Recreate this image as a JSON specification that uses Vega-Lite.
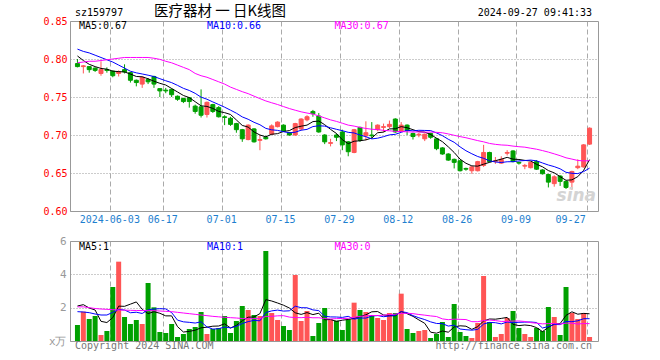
{
  "$schema": "https://vega.github.io/schema/vega-lite/v6.json",
  "autosize": {"type": "none"},
  "padding": {"left": 70, "top": 21, "right": 590, "bottom": 339},
  "background": "white",
  "config": {
    "view": {"stroke": "#999999", "strokeWidth": 1},
    "axis": {"labelFont": "DejaVu Sans Mono", "titleFont": "DejaVu Sans Mono", "labelOverlap": false},
    "text": {"font": "DejaVu Sans Mono"}
  },
  "datasets": {
    "d": [
      {"i":0,"o":0.794,"h":0.800,"l":0.789,"c":0.790,"v":0.96,"m5":0.804,"m10":0.813,"m30":0.795,"vm5":2.10,"vm10":1.76,"vm30":2.05},
      {"i":1,"o":0.790,"h":0.792,"l":0.781,"c":0.791,"v":1.76,"m5":0.798,"m10":0.810,"m30":0.796,"vm5":2.18,"vm10":1.74,"vm30":2.05},
      {"i":2,"o":0.790,"h":0.790,"l":0.782,"c":0.786,"v":1.32,"m5":0.793,"m10":0.808,"m30":0.797,"vm5":1.98,"vm10":1.70,"vm30":2.00},
      {"i":3,"o":0.788,"h":0.789,"l":0.783,"c":0.785,"v":1.50,"m5":0.790,"m10":0.805,"m30":0.797,"vm5":1.86,"vm10":1.62,"vm30":1.95},
      {"i":4,"o":0.781,"h":0.797,"l":0.778,"c":0.786,"v":0.36,"m5":0.7876,"m10":0.802,"m30":0.798,"vm5":1.18,"vm10":1.56,"vm30":1.92},
      {"i":5,"o":0.786,"h":0.789,"l":0.782,"c":0.785,"v":0.60,"m5":0.7866,"m10":0.799,"m30":0.799,"vm5":1.108,"vm10":1.56,"vm30":1.90},
      {"i":6,"o":0.784,"h":0.785,"l":0.776,"c":0.778,"v":3.24,"m5":0.784,"m10":0.796,"m30":0.800,"vm5":1.404,"vm10":1.72,"vm30":1.88},
      {"i":7,"o":0.781,"h":0.785,"l":0.777,"c":0.783,"v":4.76,"m5":0.7834,"m10":0.792,"m30":0.801,"vm5":2.092,"vm10":1.90,"vm30":1.86},
      {"i":8,"o":0.786,"h":0.793,"l":0.781,"c":0.783,"v":1.44,"m5":0.783,"m10":0.788,"m30":0.802,"vm5":2.08,"vm10":1.86,"vm30":1.85},
      {"i":9,"o":0.782,"h":0.783,"l":0.769,"c":0.772,"v":1.02,"m5":0.7802,"m10":0.7839,"m30":0.802,"vm5":2.212,"vm10":1.696,"vm30":1.84},
      {"i":10,"o":0.772,"h":0.773,"l":0.764,"c":0.769,"v":1.26,"m5":0.777,"m10":0.7818,"m30":0.802,"vm5":2.344,"vm10":1.726,"vm30":1.83},
      {"i":11,"o":0.767,"h":0.777,"l":0.762,"c":0.776,"v":1.02,"m5":0.7766,"m10":0.7803,"m30":0.802,"vm5":1.90,"vm10":1.652,"vm30":1.83},
      {"i":12,"o":0.773,"h":0.775,"l":0.767,"c":0.770,"v":3.48,"m5":0.774,"m10":0.7787,"m30":0.802,"vm5":1.644,"vm10":1.868,"vm30":1.82},
      {"i":13,"o":0.777,"h":0.778,"l":0.762,"c":0.767,"v":2.02,"m5":0.7708,"m10":0.7769,"m30":0.801,"vm5":1.76,"vm10":1.92,"vm30":1.82},
      {"i":14,"o":0.761,"h":0.761,"l":0.750,"c":0.758,"v":0.54,"m5":0.768,"m10":0.7741,"m30":0.7995,"vm5":1.664,"vm10":1.938,"vm30":1.80},
      {"i":15,"o":0.759,"h":0.762,"l":0.755,"c":0.758,"v":0.48,"m5":0.7658,"m10":0.7714,"m30":0.797,"vm5":1.508,"vm10":1.926,"vm30":1.78},
      {"i":16,"o":0.760,"h":0.761,"l":0.750,"c":0.753,"v":1.02,"m5":0.7612,"m10":0.7689,"m30":0.795,"vm5":1.508,"vm10":1.704,"vm30":1.76},
      {"i":17,"o":0.751,"h":0.752,"l":0.745,"c":0.747,"v":0.24,"m5":0.7566,"m10":0.7653,"m30":0.792,"vm5":0.86,"vm10":1.252,"vm30":1.72},
      {"i":18,"o":0.748,"h":0.749,"l":0.742,"c":0.744,"v":0.42,"m5":0.752,"m10":0.7614,"m30":0.789,"vm5":0.54,"vm10":1.15,"vm30":1.68},
      {"i":19,"o":0.749,"h":0.750,"l":0.736,"c":0.744,"v":0.72,"m5":0.7492,"m10":0.7586,"m30":0.786,"vm5":0.576,"vm10":1.12,"vm30":1.64},
      {"i":20,"o":0.738,"h":0.740,"l":0.728,"c":0.731,"v":0.84,"m5":0.7438,"m10":0.7548,"m30":0.781,"vm5":0.648,"vm10":1.078,"vm30":1.60},
      {"i":21,"o":0.737,"h":0.760,"l":0.723,"c":0.726,"v":1.74,"m5":0.7384,"m10":0.7498,"m30":0.778,"vm5":0.792,"vm10":1.15,"vm30":1.56},
      {"i":22,"o":0.727,"h":0.744,"l":0.723,"c":0.743,"v":0.42,"m5":0.7376,"m10":0.7471,"m30":0.776,"vm5":0.828,"vm10":0.844,"vm30":1.52},
      {"i":23,"o":0.740,"h":0.741,"l":0.729,"c":0.731,"v":0.72,"m5":0.735,"m10":0.7435,"m30":0.773,"vm5":0.888,"vm10":0.714,"vm30":1.48},
      {"i":24,"o":0.736,"h":0.738,"l":0.723,"c":0.724,"v":0.78,"m5":0.731,"m10":0.7401,"m30":0.770,"vm5":0.90,"vm10":0.738,"vm30":1.45},
      {"i":25,"o":0.724,"h":0.726,"l":0.713,"c":0.723,"v":1.50,"m5":0.7294,"m10":0.7366,"m30":0.767,"vm5":1.032,"vm10":0.84,"vm30":1.42},
      {"i":26,"o":0.722,"h":0.724,"l":0.712,"c":0.714,"v":0.48,"m5":0.727,"m10":0.7327,"m30":0.763,"vm5":0.78,"vm10":0.786,"vm30":1.40},
      {"i":27,"o":0.715,"h":0.716,"l":0.703,"c":0.707,"v":1.20,"m5":0.7198,"m10":0.7287,"m30":0.760,"vm5":0.936,"vm10":0.882,"vm30":1.38},
      {"i":28,"o":0.707,"h":0.708,"l":0.691,"c":0.695,"v":2.10,"m5":0.7126,"m10":0.7238,"m30":0.757,"vm5":1.212,"vm10":1.05,"vm30":1.35},
      {"i":29,"o":0.694,"h":0.714,"l":0.693,"c":0.713,"v":1.86,"m5":0.7104,"m10":0.7207,"m30":0.7544,"vm5":1.428,"vm10":1.164,"vm30":1.327},
      {"i":30,"o":0.708,"h":0.709,"l":0.690,"c":0.691,"v":1.56,"m5":0.704,"m10":0.7167,"m30":0.7511,"vm5":1.44,"vm10":1.236,"vm30":1.347},
      {"i":31,"o":0.693,"h":0.700,"l":0.680,"c":0.694,"v":1.50,"m5":0.700,"m10":0.7135,"m30":0.7479,"vm5":1.644,"vm10":1.212,"vm30":1.338},
      {"i":32,"o":0.697,"h":0.699,"l":0.694,"c":0.695,"v":5.40,"m5":0.6976,"m10":0.7087,"m30":0.7448,"vm5":2.484,"vm10":1.71,"vm30":1.474},
      {"i":33,"o":0.701,"h":0.714,"l":0.700,"c":0.712,"v":1.68,"m5":0.701,"m10":0.7068,"m30":0.7424,"vm5":2.40,"vm10":1.806,"vm30":1.48},
      {"i":34,"o":0.711,"h":0.718,"l":0.710,"c":0.717,"v":1.26,"m5":0.7018,"m10":0.7061,"m30":0.7401,"vm5":2.28,"vm10":1.854,"vm30":1.51},
      {"i":35,"o":0.713,"h":0.714,"l":0.704,"c":0.705,"v":0.90,"m5":0.7046,"m10":0.7043,"m30":0.7374,"vm5":2.148,"vm10":1.794,"vm30":1.52},
      {"i":36,"o":0.703,"h":0.704,"l":0.699,"c":0.700,"v":0.66,"m5":0.7058,"m10":0.7029,"m30":0.7348,"vm5":1.98,"vm10":1.812,"vm30":1.434},
      {"i":37,"o":0.700,"h":0.716,"l":0.699,"c":0.715,"v":3.96,"m5":0.7098,"m10":0.7037,"m30":0.7326,"vm5":1.692,"vm10":2.088,"vm30":1.407},
      {"i":38,"o":0.708,"h":0.722,"l":0.706,"c":0.721,"v":1.20,"m5":0.7116,"m10":0.7063,"m30":0.7305,"vm5":1.596,"vm10":1.998,"vm30":1.399},
      {"i":39,"o":0.720,"h":0.726,"l":0.718,"c":0.724,"v":1.80,"m5":0.713,"m10":0.7074,"m30":0.7289,"vm5":1.704,"vm10":1.992,"vm30":1.425},
      {"i":40,"o":0.731,"h":0.733,"l":0.724,"c":0.728,"v":0.30,"m5":0.7176,"m10":0.7111,"m30":0.7275,"vm5":1.584,"vm10":1.866,"vm30":1.393},
      {"i":41,"o":0.725,"h":0.729,"l":0.703,"c":0.704,"v":1.08,"m5":0.7184,"m10":0.7121,"m30":0.7251,"vm5":1.668,"vm10":1.824,"vm30":1.395},
      {"i":42,"o":0.700,"h":0.701,"l":0.688,"c":0.691,"v":1.98,"m5":0.7136,"m10":0.7117,"m30":0.7225,"vm5":1.272,"vm10":1.482,"vm30":1.345},
      {"i":43,"o":0.689,"h":0.695,"l":0.685,"c":0.690,"v":1.30,"m5":0.7074,"m10":0.7095,"m30":0.7199,"vm5":1.292,"vm10":1.444,"vm30":1.321},
      {"i":44,"o":0.700,"h":0.702,"l":0.692,"c":0.697,"v":1.22,"m5":0.702,"m10":0.7075,"m30":0.7179,"vm5":1.176,"vm10":1.44,"vm30":1.344},
      {"i":45,"o":0.704,"h":0.707,"l":0.680,"c":0.687,"v":0.66,"m5":0.6938,"m10":0.7057,"m30":0.7155,"vm5":1.248,"vm10":1.416,"vm30":1.35},
      {"i":46,"o":0.691,"h":0.692,"l":0.672,"c":0.678,"v":1.30,"m5":0.6886,"m10":0.7035,"m30":0.713,"vm5":1.292,"vm10":1.48,"vm30":1.359},
      {"i":47,"o":0.677,"h":0.708,"l":0.676,"c":0.707,"v":2.30,"m5":0.6918,"m10":0.7027,"m30":0.7117,"vm5":1.356,"vm10":1.314,"vm30":1.428},
      {"i":48,"o":0.710,"h":0.711,"l":0.691,"c":0.693,"v":1.86,"m5":0.6924,"m10":0.6999,"m30":0.710,"vm5":1.468,"vm10":1.38,"vm30":1.476},
      {"i":49,"o":0.699,"h":0.718,"l":0.693,"c":0.703,"v":1.74,"m5":0.6936,"m10":0.6978,"m30":0.7086,"vm5":1.572,"vm10":1.374,"vm30":1.51},
      {"i":50,"o":0.700,"h":0.717,"l":0.695,"c":0.699,"v":1.56,"m5":0.696,"m10":0.6949,"m30":0.7076,"vm5":1.752,"vm10":1.50,"vm30":1.534},
      {"i":51,"o":0.707,"h":0.714,"l":0.705,"c":0.713,"v":1.38,"m5":0.703,"m10":0.6958,"m30":0.7071,"vm5":1.768,"vm10":1.53,"vm30":1.522},
      {"i":52,"o":0.710,"h":0.715,"l":0.704,"c":0.711,"v":1.26,"m5":0.7038,"m10":0.6978,"m30":0.7061,"vm5":1.56,"vm10":1.458,"vm30":1.55},
      {"i":53,"o":0.711,"h":0.719,"l":0.709,"c":0.714,"v":1.68,"m5":0.708,"m10":0.7002,"m30":0.7055,"vm5":1.524,"vm10":1.496,"vm30":1.582},
      {"i":54,"o":0.721,"h":0.722,"l":0.703,"c":0.704,"v":1.68,"m5":0.7082,"m10":0.7009,"m30":0.7048,"vm5":1.512,"vm10":1.542,"vm30":1.612},
      {"i":55,"o":0.705,"h":0.717,"l":0.705,"c":0.713,"v":2.84,"m5":0.711,"m10":0.7035,"m30":0.7045,"vm5":1.768,"vm10":1.76,"vm30":1.657},
      {"i":56,"o":0.713,"h":0.714,"l":0.700,"c":0.706,"v":0.72,"m5":0.7096,"m10":0.7063,"m30":0.7042,"vm5":1.636,"vm10":1.702,"vm30":1.665},
      {"i":57,"o":0.702,"h":0.703,"l":0.694,"c":0.698,"v":0.48,"m5":0.707,"m10":0.7054,"m30":0.7039,"vm5":1.48,"vm10":1.52,"vm30":1.641},
      {"i":58,"o":0.700,"h":0.703,"l":0.697,"c":0.701,"v":0.60,"m5":0.7044,"m10":0.7062,"m30":0.7041,"vm5":1.264,"vm10":1.394,"vm30":1.591},
      {"i":59,"o":0.695,"h":0.702,"l":0.692,"c":0.701,"v":0.66,"m5":0.7038,"m10":0.706,"m30":0.7037,"vm5":1.06,"vm10":1.286,"vm30":1.551},
      {"i":60,"o":0.702,"h":0.703,"l":0.695,"c":0.697,"v":0.18,"m5":0.7006,"m10":0.7058,"m30":0.7039,"vm5":0.528,"vm10":1.148,"vm30":1.505},
      {"i":61,"o":0.695,"h":0.696,"l":0.680,"c":0.682,"v":0.42,"m5":0.6958,"m10":0.7027,"m30":0.7035,"vm5":0.468,"vm10":1.052,"vm30":1.469},
      {"i":62,"o":0.683,"h":0.684,"l":0.674,"c":0.675,"v":1.14,"m5":0.6912,"m10":0.6991,"m30":0.7029,"vm5":0.60,"vm10":1.04,"vm30":1.327},
      {"i":63,"o":0.675,"h":0.676,"l":0.666,"c":0.667,"v":0.24,"m5":0.6844,"m10":0.6944,"m30":0.7014,"vm5":0.528,"vm10":0.896,"vm30":1.279},
      {"i":64,"o":0.668,"h":0.669,"l":0.656,"c":0.664,"v":2.22,"m5":0.677,"m10":0.6904,"m30":0.6996,"vm5":0.84,"vm10":0.95,"vm30":1.311},
      {"i":65,"o":0.666,"h":0.667,"l":0.652,"c":0.653,"v":0.54,"m5":0.6682,"m10":0.6844,"m30":0.6979,"vm5":0.912,"vm10":0.72,"vm30":1.299},
      {"i":66,"o":0.656,"h":0.657,"l":0.653,"c":0.655,"v":0.30,"m5":0.6628,"m10":0.6793,"m30":0.6964,"vm5":0.888,"vm10":0.678,"vm30":1.287},
      {"i":67,"o":0.653,"h":0.659,"l":0.649,"c":0.658,"v":0.18,"m5":0.6594,"m10":0.6753,"m30":0.6945,"vm5":0.696,"vm10":0.648,"vm30":1.161},
      {"i":68,"o":0.653,"h":0.666,"l":0.652,"c":0.665,"v":1.08,"m5":0.659,"m10":0.6717,"m30":0.6926,"vm5":0.864,"vm10":0.696,"vm30":1.157},
      {"i":69,"o":0.660,"h":0.687,"l":0.658,"c":0.677,"v":3.90,"m5":0.6616,"m10":0.6693,"m30":0.691,"vm5":1.20,"vm10":1.02,"vm30":1.227},
      {"i":70,"o":0.677,"h":0.678,"l":0.664,"c":0.665,"v":1.14,"m5":0.664,"m10":0.6661,"m30":0.6889,"vm5":1.32,"vm10":1.116,"vm30":1.255},
      {"i":71,"o":0.665,"h":0.671,"l":0.662,"c":0.666,"v":0.24,"m5":0.6662,"m10":0.6645,"m30":0.6877,"vm5":1.308,"vm10":1.098,"vm30":1.227},
      {"i":72,"o":0.663,"h":0.672,"l":0.662,"c":0.668,"v":0.42,"m5":0.6682,"m10":0.6638,"m30":0.6869,"vm5":1.356,"vm10":1.026,"vm30":1.175},
      {"i":73,"o":0.676,"h":0.680,"l":0.673,"c":0.677,"v":1.38,"m5":0.6706,"m10":0.6648,"m30":0.6865,"vm5":1.416,"vm10":1.14,"vm30":1.177},
      {"i":74,"o":0.679,"h":0.680,"l":0.664,"c":0.665,"v":1.80,"m5":0.6682,"m10":0.6649,"m30":0.6854,"vm5":0.996,"vm10":1.098,"vm30":1.197},
      {"i":75,"o":0.664,"h":0.665,"l":0.661,"c":0.663,"v":0.78,"m5":0.6678,"m10":0.6659,"m30":0.6846,"vm5":0.924,"vm10":1.122,"vm30":1.201},
      {"i":76,"o":0.659,"h":0.662,"l":0.655,"c":0.660,"v":0.42,"m5":0.6666,"m10":0.6664,"m30":0.684,"vm5":0.96,"vm10":1.134,"vm30":1.171},
      {"i":77,"o":0.657,"h":0.665,"l":0.656,"c":0.664,"v":0.24,"m5":0.6658,"m10":0.667,"m30":0.6826,"vm5":0.924,"vm10":1.14,"vm30":1.103},
      {"i":78,"o":0.665,"h":0.667,"l":0.654,"c":0.655,"v":0.78,"m5":0.6614,"m10":0.666,"m30":0.6813,"vm5":0.804,"vm10":1.11,"vm30":1.067},
      {"i":79,"o":0.654,"h":0.655,"l":0.648,"c":0.649,"v":0.60,"m5":0.6582,"m10":0.6632,"m30":0.6795,"vm5":0.564,"vm10":0.78,"vm30":1.029},
      {"i":80,"o":0.648,"h":0.649,"l":0.631,"c":0.638,"v":2.04,"m5":0.6532,"m10":0.6605,"m30":0.6775,"vm5":0.816,"vm10":0.87,"vm30":1.045},
      {"i":81,"o":0.636,"h":0.647,"l":0.632,"c":0.645,"v":1.44,"m5":0.6502,"m10":0.6584,"m30":0.6752,"vm5":1.02,"vm10":0.99,"vm30":1.047},
      {"i":82,"o":0.646,"h":0.647,"l":0.633,"c":0.639,"v":0.36,"m5":0.6452,"m10":0.6555,"m30":0.6728,"vm5":1.044,"vm10":0.984,"vm30":1.017},
      {"i":83,"o":0.639,"h":0.640,"l":0.629,"c":0.631,"v":3.24,"m5":0.6404,"m10":0.6509,"m30":0.670,"vm5":1.536,"vm10":1.17,"vm30":1.069},
      {"i":84,"o":0.638,"h":0.653,"l":0.628,"c":0.652,"v":1.68,"m5":0.641,"m10":0.6496,"m30":0.6683,"vm5":1.752,"vm10":1.158,"vm30":1.069},
      {"i":85,"o":0.657,"h":0.668,"l":0.655,"c":0.659,"v":1.32,"m5":0.6452,"m10":0.6492,"m30":0.6665,"vm5":1.608,"vm10":1.212,"vm30":1.018},
      {"i":86,"o":0.658,"h":0.688,"l":0.657,"c":0.687,"v":1.68,"m5":0.6536,"m10":0.6519,"m30":0.6659,"vm5":1.656,"vm10":1.338,"vm30":1.05},
      {"i":87,"o":0.688,"h":0.710,"l":0.687,"c":0.709,"v":0.24,"m5":0.6676,"m10":0.6564,"m30":0.6662,"vm5":1.632,"vm10":1.338,"vm30":1.042}
    ]
  },
  "vconcat": [
    {
      "width": 528,
      "height": 190,
      "data": {"name": "d"},
      "encoding": {
        "x": {
          "field": "i", "type": "quantitative",
          "scale": {"domain": [-0.4167, 87.5833], "nice": false, "zero": false},
          "axis": {"title": null, "values": [5.5833, 14.5833, 24.5833, 34.5833, 44.5833, 54.5833, 64.5833, 74.5833, 86.5833], "labelExpr": "['2024-06-03','06-17','07-01','07-15','07-29','08-12','08-26','09-09','09-27'][indexof([6,15,25,35,45,55,65,75,87], round(datum.value + 0.4167))]", "labelColor": "#1e7fcf", "labelFontSize": 10, "labelPadding": 3, "labelOffset": {"condition": {"test": "datum.value > 80", "value": -17}, "value": -1}, "ticks": false, "domain": false, "grid": true, "gridColor": "#aaaaaa", "gridDash": [5, 3]}
        }
      },
      "layer": [
        {
          "mark": {"type": "rule", "strokeWidth": 1},
          "encoding": {
            "y": {"field": "l", "type": "quantitative", "scale": {"domain": [0.6, 0.85], "nice": false, "zero": false},
              "axis": {"title": null, "values": [0.6, 0.65, 0.7, 0.75, 0.8, 0.85], "format": ".2f", "labelColor": "#ff0000", "labelFontSize": 10, "labelPadding": 3, "ticks": false, "domain": false, "grid": true, "gridColor": "#999999", "gridDash": [1, 2]}},
            "y2": {"field": "h"},
            "color": {"condition": {"test": "datum.c >= datum.o", "value": "#ff5555"}, "value": "#00a000"}
          }
        },
        {
          "mark": {"type": "bar", "width": 4, "strokeWidth": 1},
          "encoding": {
            "y": {"field": "o", "type": "quantitative", "scale": {"domain": [0.6, 0.85], "nice": false, "zero": false},
              "axis": {"title": null, "values": [0.6, 0.65, 0.7, 0.75, 0.8, 0.85], "format": ".2f", "labelColor": "#ff0000", "labelFontSize": 10, "labelPadding": 3, "ticks": false, "domain": false, "grid": true, "gridColor": "#999999", "gridDash": [1, 2]}},
            "y2": {"field": "c"},
            "fill": {"condition": {"test": "datum.c >= datum.o", "value": "#ff5555"}, "value": "#00a000"},
            "stroke": {"condition": {"test": "datum.c >= datum.o", "value": "#ff5555"}, "value": "#00a000"}
          }
        },
        {
          "mark": {"type": "line", "color": "#000000", "strokeWidth": 1},
          "encoding": {"y": {"field": "m5", "type": "quantitative", "scale": {"domain": [0.6, 0.85], "nice": false, "zero": false},
            "axis": {"title": null, "values": [0.6, 0.65, 0.7, 0.75, 0.8, 0.85], "format": ".2f", "labelColor": "#ff0000", "labelFontSize": 10, "labelPadding": 3, "ticks": false, "domain": false, "grid": true, "gridColor": "#999999", "gridDash": [1, 2]}}}
        },
        {
          "mark": {"type": "line", "color": "#0000ff", "strokeWidth": 1},
          "encoding": {"y": {"field": "m10", "type": "quantitative", "scale": {"domain": [0.6, 0.85], "nice": false, "zero": false},
            "axis": {"title": null, "values": [0.6, 0.65, 0.7, 0.75, 0.8, 0.85], "format": ".2f", "labelColor": "#ff0000", "labelFontSize": 10, "labelPadding": 3, "ticks": false, "domain": false, "grid": true, "gridColor": "#999999", "gridDash": [1, 2]}}}
        },
        {
          "mark": {"type": "line", "color": "#ff00ff", "strokeWidth": 1},
          "encoding": {"y": {"field": "m30", "type": "quantitative", "scale": {"domain": [0.6, 0.85], "nice": false, "zero": false},
            "axis": {"title": null, "values": [0.6, 0.65, 0.7, 0.75, 0.8, 0.85], "format": ".2f", "labelColor": "#ff0000", "labelFontSize": 10, "labelPadding": 3, "ticks": false, "domain": false, "grid": true, "gridColor": "#999999", "gridDash": [1, 2]}}}
        },
        {
          "transform": [{"filter": "datum.i == 87"}],
          "layer": [
            {"mark": {"type": "text", "align": "left", "baseline": "middle", "fontSize": 10, "color": "#000000", "text": "sz159797"},
             "encoding": {"x": {"datum": -0.4167}, "y": {"datum": 0.8603}}},
            {"mark": {"type": "text", "align": "left", "baseline": "middle", "fontSize": 14.5, "font": "Noto Sans CJK SC", "color": "#000000", "text": "医疗器材 一 日K线图"},
             "encoding": {"x": {"datum": 13.02}, "y": {"datum": 0.8612}}},
            {"mark": {"type": "text", "align": "right", "baseline": "middle", "fontSize": 10, "color": "#000000", "text": "2024-09-27 09:41:33"},
             "encoding": {"x": {"datum": 87.42}, "y": {"datum": 0.8603}}},
            {"mark": {"type": "text", "align": "left", "baseline": "middle", "fontSize": 10, "color": "#000000", "text": "MA5:0.67"},
             "encoding": {"x": {"datum": 0.25}, "y": {"datum": 0.8434}}},
            {"mark": {"type": "text", "align": "left", "baseline": "middle", "fontSize": 10, "color": "#0000ff", "text": "MA10:0.66"},
             "encoding": {"x": {"datum": 22.0}, "y": {"datum": 0.8434}}},
            {"mark": {"type": "text", "align": "left", "baseline": "middle", "fontSize": 10, "color": "#ff00ff", "text": "MA30:0.67"},
             "encoding": {"x": {"datum": 43.67}, "y": {"datum": 0.8434}}},
            {"mark": {"type": "text", "align": "center", "baseline": "middle", "fontSize": 17, "fontStyle": "italic", "fontWeight": "bold", "font": "DejaVu Sans", "color": "#d4d4d4", "text": "sina"},
             "encoding": {"x": {"datum": 84.75}, "y": {"datum": 0.6197}}}
          ],
          "encoding": {
            "x": {"type": "quantitative", "scale": {"domain": [-0.4167, 87.5833], "nice": false, "zero": false},
              "axis": {"title": null, "values": [5.5833, 14.5833, 24.5833, 34.5833, 44.5833, 54.5833, 64.5833, 74.5833, 86.5833], "labelExpr": "['2024-06-03','06-17','07-01','07-15','07-29','08-12','08-26','09-09','09-27'][indexof([6,15,25,35,45,55,65,75,87], round(datum.value + 0.4167))]", "labelColor": "#1e7fcf", "labelFontSize": 10, "labelPadding": 3, "labelOffset": {"condition": {"test": "datum.value > 80", "value": -17}, "value": -1}, "ticks": false, "domain": false, "grid": true, "gridColor": "#aaaaaa", "gridDash": [5, 3]}},
            "y": {"type": "quantitative", "scale": {"domain": [0.6, 0.85], "nice": false, "zero": false},
              "axis": {"title": null, "values": [0.6, 0.65, 0.7, 0.75, 0.8, 0.85], "format": ".2f", "labelColor": "#ff0000", "labelFontSize": 10, "labelPadding": 3, "ticks": false, "domain": false, "grid": true, "gridColor": "#999999", "gridDash": [1, 2]}}
          }
        }
      ]
    },
    {
      "width": 528,
      "height": 100,
      "data": {"name": "d"},
      "encoding": {
        "x": {
          "field": "i", "type": "quantitative",
          "scale": {"domain": [-0.4167, 87.5833], "nice": false, "zero": false},
          "axis": {"title": null, "values": [5.5833, 14.5833, 24.5833, 34.5833, 44.5833, 54.5833, 64.5833, 74.5833, 86.5833], "labels": false, "ticks": false, "domain": false, "grid": true, "gridColor": "#aaaaaa", "gridDash": [5, 3]}
        }
      },
      "layer": [
        {
          "mark": {"type": "bar", "width": 5},
          "encoding": {
            "y": {"field": "v", "type": "quantitative", "scale": {"domain": [0, 6], "nice": false},
              "axis": {"title": null, "values": [0, 2, 4, 6], "labelExpr": "datum.value == 0 ? 'x万' : datum.label", "labelColor": "#999999", "labelFontSize": 11, "labelPadding": 4, "ticks": false, "domain": false, "grid": true, "gridColor": "#999999", "gridDash": [1, 2]}},
            "y2": {"datum": 0},
            "color": {"condition": {"test": "datum.c >= datum.o", "value": "#ff5555"}, "value": "#00a000"}
          }
        },
        {
          "mark": {"type": "line", "color": "#000000", "strokeWidth": 1},
          "encoding": {"y": {"field": "vm5", "type": "quantitative", "scale": {"domain": [0, 6], "nice": false},
            "axis": {"title": null, "values": [0, 2, 4, 6], "labelExpr": "datum.value == 0 ? 'x万' : datum.label", "labelColor": "#999999", "labelFontSize": 11, "labelPadding": 4, "ticks": false, "domain": false, "grid": true, "gridColor": "#999999", "gridDash": [1, 2]}}}
        },
        {
          "mark": {"type": "line", "color": "#0000ff", "strokeWidth": 1},
          "encoding": {"y": {"field": "vm10", "type": "quantitative", "scale": {"domain": [0, 6], "nice": false},
            "axis": {"title": null, "values": [0, 2, 4, 6], "labelExpr": "datum.value == 0 ? 'x万' : datum.label", "labelColor": "#999999", "labelFontSize": 11, "labelPadding": 4, "ticks": false, "domain": false, "grid": true, "gridColor": "#999999", "gridDash": [1, 2]}}}
        },
        {
          "mark": {"type": "line", "color": "#ff00ff", "strokeWidth": 1},
          "encoding": {"y": {"field": "vm30", "type": "quantitative", "scale": {"domain": [0, 6], "nice": false},
            "axis": {"title": null, "values": [0, 2, 4, 6], "labelExpr": "datum.value == 0 ? 'x万' : datum.label", "labelColor": "#999999", "labelFontSize": 11, "labelPadding": 4, "ticks": false, "domain": false, "grid": true, "gridColor": "#999999", "gridDash": [1, 2]}}}
        },
        {
          "transform": [{"filter": "datum.i == 87"}],
          "layer": [
            {"mark": {"type": "text", "align": "left", "baseline": "middle", "fontSize": 10, "color": "#000000", "text": "MA5:1"},
             "encoding": {"x": {"datum": 0.25}, "y": {"datum": 5.64}}},
            {"mark": {"type": "text", "align": "left", "baseline": "middle", "fontSize": 10, "color": "#0000ff", "text": "MA10:1"},
             "encoding": {"x": {"datum": 22.0}, "y": {"datum": 5.64}}},
            {"mark": {"type": "text", "align": "left", "baseline": "middle", "fontSize": 10, "color": "#ff00ff", "text": "MA30:0"},
             "encoding": {"x": {"datum": 43.67}, "y": {"datum": 5.64}}},
            {"mark": {"type": "text", "align": "left", "baseline": "middle", "fontSize": 10, "color": "#777777", "text": "Copyright 2024 SINA.COM"},
             "encoding": {"x": {"datum": -0.4167}, "y": {"datum": -0.3}}},
            {"mark": {"type": "text", "align": "right", "baseline": "middle", "fontSize": 10, "color": "#777777", "text": "http://finance.sina.com.cn"},
             "encoding": {"x": {"datum": 87.42}, "y": {"datum": -0.3}}}
          ],
          "encoding": {
            "x": {"type": "quantitative", "scale": {"domain": [-0.4167, 87.5833], "nice": false, "zero": false},
              "axis": {"title": null, "values": [5.5833, 14.5833, 24.5833, 34.5833, 44.5833, 54.5833, 64.5833, 74.5833, 86.5833], "labels": false, "ticks": false, "domain": false, "grid": true, "gridColor": "#aaaaaa", "gridDash": [5, 3]}},
            "y": {"type": "quantitative", "scale": {"domain": [0, 6], "nice": false},
              "axis": {"title": null, "values": [0, 2, 4, 6], "labelExpr": "datum.value == 0 ? 'x万' : datum.label", "labelColor": "#999999", "labelFontSize": 11, "labelPadding": 4, "ticks": false, "domain": false, "grid": true, "gridColor": "#999999", "gridDash": [1, 2]}}
          }
        }
      ]
    }
  ],
  "spacing": 30,
  "bounds": "flush"
}
